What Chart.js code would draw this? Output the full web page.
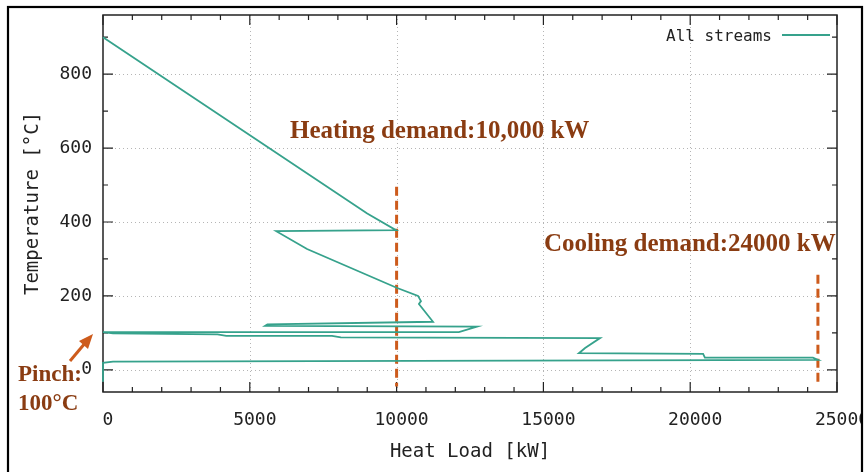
<!DOCTYPE html>
<html>
<head>
<meta charset="utf-8">
<script src="https://cdn.jsdelivr.net/npm/chart.js@4.4.1/dist/chart.umd.min.js"></script>
<style>
html, body { margin: 0; padding: 0; background: #fff; }
#wrap { width: 865px; height: 472px; }
</style>
</head>
<body>
<div id="wrap"><canvas id="chart"></canvas></div>
<script>
"use strict";

// composite curve
var heatLoad = [0, 9000, 9980, 5900, 6950, 10000, 10730, 10830, 10760, 11240,
    5600, 5520, 12740, 12120, 0, 340, 3900, 4200, 7800, 8100,
    16930, 16420, 16210, 20440, 20500, 24180, 24350, 340, 0, 0];
var temperature = [900, 423, 378, 375, 327, 222, 200, 186, 178, 130,
    123, 119, 117, 102, 102, 99, 96, 92, 92, 88,
    86, 59, 45, 43, 33, 33, 27, 22, 19, -32];

// demand markers
var heatingX = [10000, 10000];
var heatingT = [495, -45];
var coolingX = [24350, 24350];
var coolingT = [257, -40];

var xTicks = [0, 5000, 10000, 15000, 20000, 25000];
var yTicks = [0, 200, 400, 600, 800];
var xMinorStep = 1000;
var yMinorStep = 100;

var teal = '#36a28c';
var orange = '#cd5b1c';
var brown = '#8a3c12';
var mono = '"DejaVu Sans Mono", monospace';

function toPoints(xs, ys) {
    return xs.map(function (x, i) { return { x: x, y: ys[i] }; });
}

var frame = {
    id: 'frame',
    beforeDatasetsDraw: function (chart) {
        var ctx = chart.ctx, a = chart.chartArea;
        var xs = chart.scales.x, ys = chart.scales.y;
        ctx.save();
        // dotted grid
        ctx.strokeStyle = '#b5b5b5';
        ctx.lineWidth = 1;
        ctx.setLineDash([1, 3]);
        xTicks.forEach(function (v) {
            var px = Math.round(xs.getPixelForValue(v)) + 0.5;
            if (px <= a.left + 1 || px >= a.right - 1) return;
            ctx.beginPath(); ctx.moveTo(px, a.top); ctx.lineTo(px, a.bottom); ctx.stroke();
        });
        yTicks.forEach(function (v) {
            var py = Math.round(ys.getPixelForValue(v)) + 0.5;
            ctx.beginPath(); ctx.moveTo(a.left, py); ctx.lineTo(a.right, py); ctx.stroke();
        });
        ctx.setLineDash([]);
        // plot border
        ctx.strokeStyle = '#222';
        ctx.lineWidth = 1.5;
        ctx.strokeRect(a.left, a.top, a.right - a.left, a.bottom - a.top);
        // inward ticks on all sides
        ctx.lineWidth = 1.2;
        var v, len, p;
        for (v = xs.min; v <= xs.max; v += xMinorStep) {
            len = (v % 5000 === 0) ? 10 : 5;
            p = xs.getPixelForValue(v);
            ctx.beginPath();
            ctx.moveTo(p, a.bottom); ctx.lineTo(p, a.bottom - len);
            ctx.moveTo(p, a.top); ctx.lineTo(p, a.top + len);
            ctx.stroke();
        }
        for (v = 0; v <= ys.max; v += yMinorStep) {
            len = (v % 200 === 0) ? 10 : 5;
            p = ys.getPixelForValue(v);
            ctx.beginPath();
            ctx.moveTo(a.left, p); ctx.lineTo(a.left + len, p);
            ctx.moveTo(a.right, p); ctx.lineTo(a.right - len, p);
            ctx.stroke();
        }
        ctx.restore();
    },
    afterDraw: function (chart) {
        var ctx = chart.ctx;
        ctx.save();
        // annotations
        ctx.fillStyle = brown;
        ctx.textBaseline = 'alphabetic';
        ctx.textAlign = 'left';
        ctx.font = 'bold 25px "Liberation Serif", serif';
        ctx.fillText('Heating demand:10,000 kW', 290, 138);
        ctx.fillText('Cooling demand:24000 kW', 544, 251);
        ctx.font = 'bold 23px "Liberation Serif", serif';
        ctx.fillText('Pinch:', 18, 381);
        ctx.fillText('100°C', 18, 410);
        // arrow
        ctx.strokeStyle = orange;
        ctx.fillStyle = orange;
        ctx.lineWidth = 3;
        ctx.beginPath(); ctx.moveTo(70, 361); ctx.lineTo(86, 342); ctx.stroke();
        ctx.beginPath(); ctx.moveTo(93, 334); ctx.lineTo(79, 341); ctx.lineTo(88, 349); ctx.closePath(); ctx.fill();
        // legend
        ctx.fillStyle = '#222';
        ctx.font = '16px ' + mono;
        ctx.textAlign = 'right';
        ctx.textBaseline = 'middle';
        ctx.fillText('All streams', 772, 37);
        ctx.strokeStyle = teal;
        ctx.lineWidth = 1.8;
        ctx.beginPath(); ctx.moveTo(782, 35); ctx.lineTo(830, 35); ctx.stroke();
        // outer frame
        ctx.fillStyle = '#fff';
        ctx.fillRect(863, 0, 10, 472);
        ctx.strokeStyle = '#000';
        ctx.lineWidth = 2.2;
        ctx.strokeRect(8, 7, 854, 480);
        ctx.restore();
    }
};

var ctx = document.getElementById('chart').getContext('2d');
var myChart = new Chart(ctx, {
    type: 'scatter',
    data: {
        datasets: [{
            label: 'All streams',
            data: toPoints(heatLoad, temperature),
            showLine: true,
            borderColor: teal,
            borderWidth: 1.8,
            pointRadius: 0,
            tension: 0,
            clip: 4
        }, {
            label: 'Heating demand',
            data: toPoints(heatingX, heatingT),
            showLine: true,
            borderColor: orange,
            borderWidth: 3,
            borderDash: [9, 5],
            pointRadius: 0,
            clip: 4
        }, {
            label: 'Cooling demand',
            data: toPoints(coolingX, coolingT),
            showLine: true,
            borderColor: orange,
            borderWidth: 3,
            borderDash: [9, 5],
            pointRadius: 0,
            clip: 4
        }]
    },
    options: {
        responsive: true,
        maintainAspectRatio: false,
        animation: false,
        layout: { padding: { top: 15, right: 28, left: 0, bottom: 0 } },
        plugins: {
            legend: { display: false },
            tooltip: { enabled: false }
        },
        scales: {
            x: {
                type: 'linear',
                min: 0,
                max: 25000,
                afterBuildTicks: function (s) { s.ticks = xTicks.map(function (v) { return { value: v }; }); },
                afterFit: function (s) { s.height = 80; s.paddingLeft = 0; s.paddingRight = 0; },
                grid: { display: false, drawTicks: false },
                border: { display: false },
                ticks: {
                    font: { family: mono, size: 18 },
                    color: '#222',
                    padding: 18,
                    labelOffset: 5,
                    maxRotation: 0,
                    autoSkip: false,
                    callback: function (v) { return String(v); }
                },
                title: {
                    display: true,
                    text: 'Heat Load [kW]',
                    font: { family: mono, size: 19 },
                    color: '#222',
                    padding: { top: 0, bottom: 9 }
                }
            },
            y: {
                type: 'linear',
                min: -60,
                max: 960,
                afterBuildTicks: function (s) { s.ticks = yTicks.map(function (v) { return { value: v }; }); },
                afterFit: function (s) { s.width = 103; s.paddingTop = 0; s.paddingBottom = 0; },
                grid: { display: false, drawTicks: false },
                border: { display: false },
                ticks: {
                    font: { family: mono, size: 18 },
                    color: '#222',
                    padding: 11,
                    callback: function (v) { return String(v); }
                },
                title: {
                    display: true,
                    text: 'Temperature [°C]',
                    font: { family: mono, size: 19 },
                    color: '#222',
                    padding: { top: 22, bottom: 0 }
                }
            }
        }
    },
    plugins: [frame]
});
</script>
</body>
</html>
